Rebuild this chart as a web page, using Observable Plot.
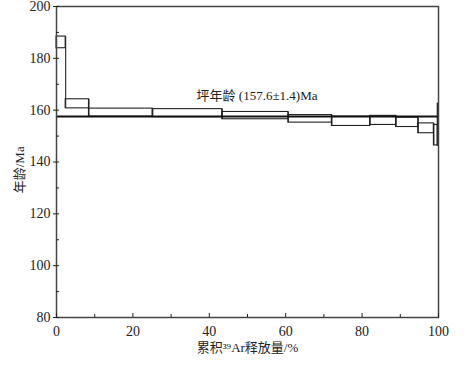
<!DOCTYPE html>
<html>
<head>
<meta charset="utf-8">
<script src="https://cdn.jsdelivr.net/npm/d3@7"></script>
<script src="https://cdn.jsdelivr.net/npm/@observablehq/plot@0.6"></script>
<style>
  html, body { margin: 0; padding: 0; background: #fff; }
</style>
</head>
<body>
<div id="chart"></div>
<script>
// Step-heating 39Ar release spectrum
const stepStart = [0, 2.4, 8.5, 25.2, 43.4, 60.7, 72.1, 82.1, 88.9, 94.7, 98.8, 99.8];
const stepEnd   = [2.4, 8.5, 25.2, 43.4, 60.7, 72.1, 82.1, 88.9, 94.7, 98.8, 99.8, 100];
const ageLow    = [183.9, 160.7, 157.5, 157.3, 156.5, 155.2, 153.9, 154.3, 153.5, 151.1, 146.4, 146.2];
const ageHigh   = [188.4, 164.2, 160.6, 160.4, 159.3, 158.1, 157.5, 157.8, 157.1, 154.9, 154.3, 162.5];
const plateauAge = [157.6];
const plateauText = ["坪年龄 (157.6±1.4)Ma"];
const xMajorTicks = [0, 20, 40, 60, 80, 100];
const xMinorTicks = [10, 30, 50, 70, 90];
const yMajorTicks = [80, 100, 120, 140, 160, 180, 200];
const yMinorTicks = [90, 110, 130, 150, 170, 190];
const xLabel = "累积³⁹Ar释放量/%";
const yLabel = "年龄/Ma";

const steps = stepStart.map((s, i) => ({x1: s, x2: stepEnd[i], y1: ageLow[i], y2: ageHigh[i]}));
const connectors = steps.slice(0, -1).map((d, i) => {
  const n = steps[i + 1];
  return {x: d.x2, y1: Math.min(d.y1, n.y1), y2: Math.max(d.y2, n.y2)};
});

const chart = Plot.plot({
  width: 464,
  height: 366,
  marginLeft: 56,
  marginRight: 26,
  marginTop: 6,
  marginBottom: 49,
  style: {
    fontFamily: '"Liberation Serif", "Noto Sans CJK SC", serif',
    fontSize: "14px",
    color: "#222",
    background: "#fff"
  },
  x: {domain: [0, 100]},
  y: {domain: [80, 200]},
  marks: [
    Plot.rect(steps, {x1: "x1", x2: "x2", y1: "y1", y2: "y2", fill: "none", stroke: "#222", strokeWidth: 1.1}),
    Plot.ruleX(connectors, {x: "x", y1: "y1", y2: "y2", stroke: "#222", strokeWidth: 1.1}),
    Plot.ruleY(plateauAge, {stroke: "#111", strokeWidth: 2}),
    Plot.text(plateauText, {x: [52.5], y: [165.4], fontSize: 13, fill: "#222"}),
    Plot.frame({stroke: "#444", strokeWidth: 1.5}),
    Plot.axisY({ticks: yMajorTicks, tickSize: 3, tickPadding: 3, label: null, tickFormat: d => String(d)}),
    Plot.axisY({ticks: yMajorTicks, tickSize: -3, tickFormat: () => "", label: null}),
    Plot.axisY({ticks: yMinorTicks, tickSize: -3, tickFormat: () => "", label: null}),
    Plot.axisX({ticks: xMajorTicks, tickSize: 0, tickPadding: 9, label: null, tickFormat: d => String(d)}),
    Plot.axisX({ticks: xMajorTicks, tickSize: -4, tickFormat: () => "", label: null}),
    Plot.axisX({ticks: xMinorTicks, tickSize: -3, tickFormat: () => "", label: null}),
    Plot.text([yLabel], {frameAnchor: "left", y: [137], dx: -37, rotate: -90, textAnchor: "middle", lineAnchor: "middle", fontSize: 13, fill: "#222"}),
    Plot.text([xLabel], {frameAnchor: "bottom", dy: 30, textAnchor: "middle", lineAnchor: "middle", fontSize: 13, fill: "#222"})
  ]
});
document.getElementById("chart").appendChild(chart);
</script>
</body>
</html>
